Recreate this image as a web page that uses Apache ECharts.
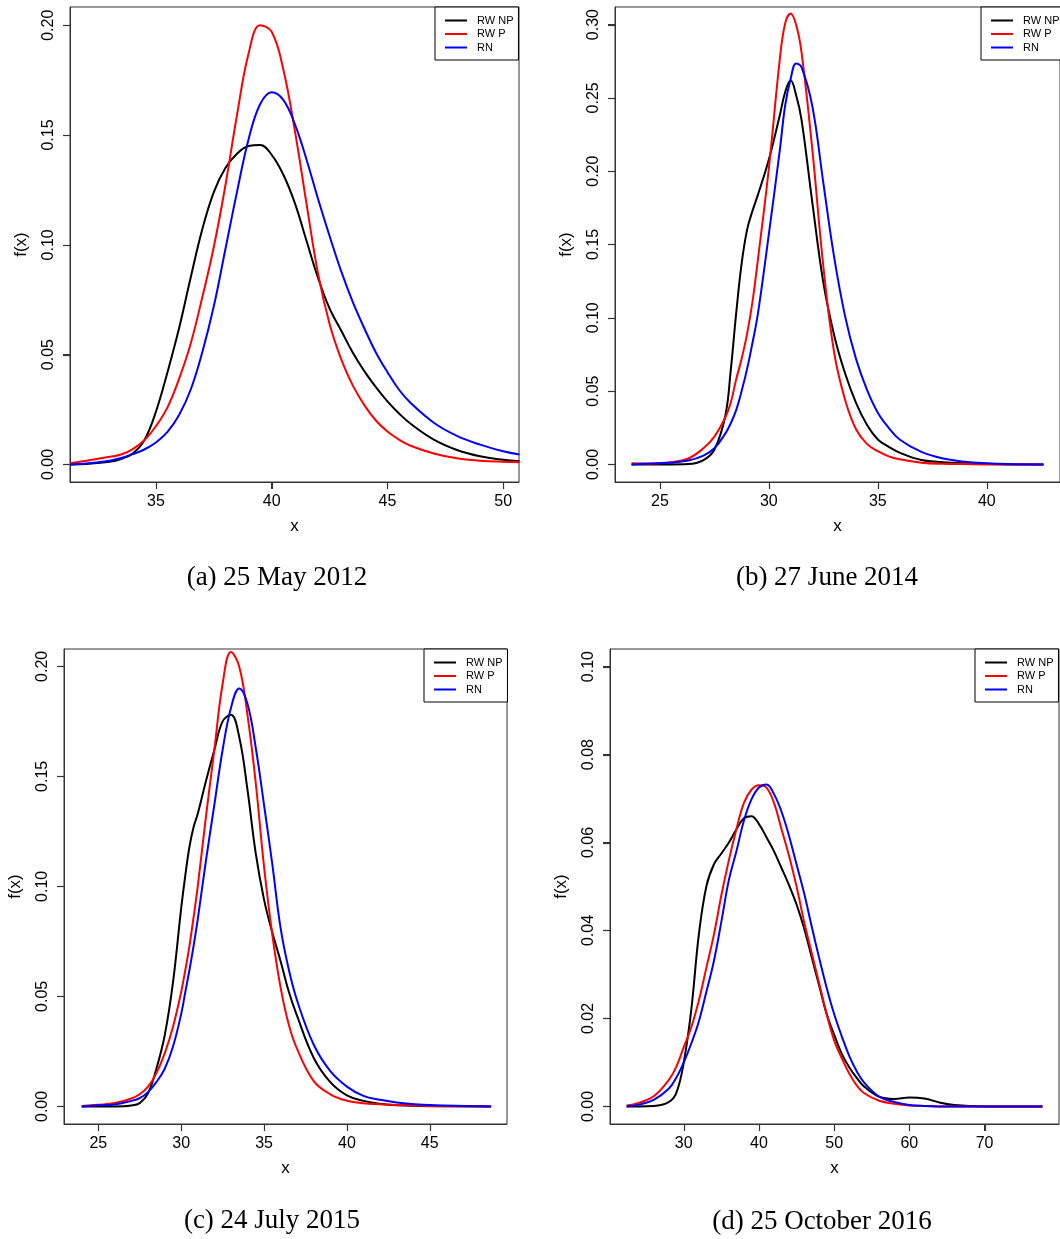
<!DOCTYPE html>
<html>
<head>
<meta charset="utf-8">
<script src="https://cdn.jsdelivr.net/npm/echarts@6/dist/echarts.min.js"></script>
<style>
  html, body { margin: 0; padding: 0; background: #fff; }
  #container { width: 1060px; height: 1239px; }
</style>
</head>
<body>
<div id="container"></div>
<script>
// (a) 25 May 2012
const aX   = [31.3, 32, 33, 33.5, 34, 34.5, 35, 35.5, 36, 36.5, 37, 37.5, 38, 38.5, 39, 39.5, 40, 40.5, 41, 41.5, 42, 42.5, 43, 43.5, 44, 44.5, 45, 45.5, 46, 47, 48, 49, 50, 50.7]
const aNP  = [0, 0.0002, 0.0012, 0.0025, 0.005, 0.011, 0.024, 0.042, 0.062, 0.085, 0.107, 0.124, 0.135, 0.1415, 0.145, 0.1455, 0.141, 0.132, 0.119, 0.102, 0.085, 0.071, 0.061, 0.051, 0.0425, 0.0352, 0.0287, 0.0232, 0.0185, 0.0113, 0.0066, 0.0037, 0.0021, 0.0014]
const aP   = [0.0005, 0.0017, 0.0035, 0.0045, 0.007, 0.011, 0.0174, 0.026, 0.039, 0.055, 0.076, 0.099, 0.127, 0.159, 0.187, 0.200, 0.197, 0.180, 0.152, 0.119, 0.087, 0.064, 0.048, 0.036, 0.027, 0.020, 0.015, 0.0113, 0.0085, 0.005, 0.0028, 0.0017, 0.0012, 0.001]
const aRN  = [0, 0.0004, 0.0017, 0.0029, 0.0047, 0.0068, 0.0100, 0.0148, 0.0225, 0.034, 0.051, 0.072, 0.098, 0.124, 0.148, 0.164, 0.1695, 0.166, 0.155, 0.139, 0.121, 0.104, 0.088, 0.074, 0.062, 0.051, 0.042, 0.034, 0.028, 0.019, 0.013, 0.009, 0.006, 0.0045]

// (b) 27 June 2014
const bX   = [23.7, 24.5, 25.5, 26.3, 27, 27.5, 28, 28.25, 28.5, 28.75, 29, 29.25, 29.5, 30, 30.5, 30.75, 31, 31.25, 31.5, 32, 32.5, 33, 33.5, 34, 34.5, 35, 35.5, 36, 37, 38, 39, 40, 41, 42.6]
const bNP  = [0, 0, 0, 0.0002, 0.003, 0.010, 0.033, 0.064, 0.103, 0.137, 0.160, 0.173, 0.184, 0.208, 0.238, 0.254, 0.262, 0.252, 0.235, 0.178, 0.124, 0.088, 0.062, 0.042, 0.027, 0.017, 0.012, 0.008, 0.003, 0.0015, 0.0008, 0.0003, 0, 0]
const bP   = [0.0008, 0.0005, 0.0015, 0.004, 0.011, 0.019, 0.032, 0.042, 0.058, 0.072, 0.089, 0.111, 0.140, 0.202, 0.276, 0.301, 0.3076, 0.300, 0.281, 0.214, 0.135, 0.076, 0.044, 0.024, 0.014, 0.009, 0.0055, 0.0035, 0.0012, 0.0004, 0.0002, 0, 0, 0]
const bRN  = [0, 0.0006, 0.0012, 0.0026, 0.006, 0.011, 0.021, 0.028, 0.037, 0.050, 0.065, 0.083, 0.103, 0.157, 0.214, 0.245, 0.263, 0.2735, 0.271, 0.244, 0.192, 0.141, 0.101, 0.072, 0.051, 0.0353, 0.025, 0.017, 0.0085, 0.004, 0.0018, 0.0008, 0.0003, 0]

// (c) 24 July 2015
const cX   = [24, 25, 26, 27, 27.5, 28, 28.5, 29, 29.5, 30, 30.25, 30.5, 30.75, 31, 31.5, 32, 32.5, 33, 33.5, 34, 34.5, 35, 35.5, 36, 36.5, 37, 38, 39, 40, 41, 42, 43, 45, 48.7]
const cNP  = [0, 0, 0, 0.0004, 0.0015, 0.006, 0.017, 0.032, 0.056, 0.090, 0.105, 0.118, 0.127, 0.133, 0.148, 0.162, 0.175, 0.178, 0.168, 0.144, 0.115, 0.094, 0.079, 0.066, 0.052, 0.041, 0.022, 0.011, 0.005, 0.0025, 0.0012, 0.0005, 0.0001, 0]
const cP   = [0.0002, 0.0007, 0.0015, 0.0036, 0.0055, 0.009, 0.015, 0.024, 0.036, 0.052, 0.062, 0.073, 0.086, 0.100, 0.132, 0.162, 0.192, 0.2065, 0.200, 0.178, 0.147, 0.109, 0.078, 0.054, 0.037, 0.026, 0.0115, 0.0055, 0.0026, 0.0014, 0.001, 0.0006, 0.0002, 0]
const cRN  = [0, 0.0005, 0.0009, 0.0025, 0.0038, 0.0065, 0.011, 0.017, 0.027, 0.042, 0.052, 0.062, 0.073, 0.085, 0.112, 0.137, 0.162, 0.181, 0.190, 0.183, 0.163, 0.137, 0.110, 0.081, 0.062, 0.048, 0.028, 0.016, 0.009, 0.0048, 0.003, 0.0018, 0.0006, 0]

// (d) 25 October 2016
const dX   = [22.4, 24, 26, 28, 29, 30, 31, 32, 33, 34, 35, 36, 37, 38, 39, 40, 41, 42, 43, 44, 45, 46, 47, 48, 49, 50, 51, 52, 53, 54, 56, 58, 60, 62, 64, 66, 70, 77.7]
const dNP  = [0, 0, 0.0001, 0.001, 0.003, 0.010, 0.022, 0.039, 0.050, 0.055, 0.0575, 0.060, 0.063, 0.0655, 0.066, 0.0642, 0.0612, 0.058, 0.0542, 0.0503, 0.0459, 0.0405, 0.034, 0.0275, 0.021, 0.0163, 0.012, 0.0089, 0.0065, 0.0045, 0.0022, 0.0017, 0.002, 0.0018, 0.0009, 0.0003, 0, 0]
const dP   = [0.0002, 0.0008, 0.0023, 0.006, 0.009, 0.0135, 0.018, 0.024, 0.0315, 0.039, 0.048, 0.056, 0.063, 0.069, 0.072, 0.073, 0.0725, 0.069, 0.063, 0.057, 0.050, 0.042, 0.035, 0.028, 0.021, 0.015, 0.011, 0.0075, 0.0048, 0.003, 0.0013, 0.0006, 0.0002, 0.0001, 0, 0, 0, 0]
const dRN  = [0, 0.0004, 0.0015, 0.004, 0.0065, 0.010, 0.0143, 0.0193, 0.026, 0.033, 0.042, 0.0515, 0.058, 0.065, 0.0698, 0.0725, 0.0732, 0.071, 0.067, 0.0615, 0.055, 0.0485, 0.041, 0.0338, 0.027, 0.021, 0.016, 0.0115, 0.008, 0.0054, 0.0022, 0.001, 0.0003, 0.0001, 0, 0, 0, 0]

const seriesNames = ['RW NP', 'RW P', 'RN']
const seriesColors = ['#000000', '#ff0000', '#0000ff']

// tick labels
const aXTicks = [35, 40, 45, 50]
const bXTicks = [25, 30, 35, 40]
const cXTicks = [25, 30, 35, 40, 45]
const dXTicks = [30, 40, 50, 60, 70]
const aYTicks = [0, 0.05, 0.10, 0.15, 0.20]
const bYTicks = [0, 0.05, 0.10, 0.15, 0.20, 0.25, 0.30]
const cYTicks = [0, 0.05, 0.10, 0.15, 0.20]
const dYTicks = [0, 0.02, 0.04, 0.06, 0.08, 0.10]

const captions = ['(a) 25 May 2012', '(b) 27 June 2014', '(c) 24 July 2015', '(d) 25 October 2016']

const SANS = "'Liberation Sans', Arial, Helvetica, sans-serif"
const SERIF = "'Liberation Serif', 'Times New Roman', serif"
const BOX = '#333333'
const TICK_LEN = 7

const panels = [
    { x: aX, ys: [aNP, aP, aRN], xTicks: aXTicks, yTicks: aYTicks, xMin: 31.29, xMax: 50.68, yMin: -0.008, yMax: 0.2083,
      grid: { left: 70, top: 7, width: 449, height: 475 }, legend: { left: 435, top: 7 }, caption: { left: 277, top: 564 } },
    { x: bX, ys: [bNP, bP, bRN], xTicks: bXTicks, yTicks: bYTicks, xMin: 22.94, xMax: 43.36, yMin: -0.012, yMax: 0.312,
      grid: { left: 615, top: 7, width: 454, height: 475 }, legend: { left: 981, top: 7 }, caption: { left: 827, top: 564 } },
    { x: cX, ys: [cNP, cP, cRN], xTicks: cXTicks, yTicks: cYTicks, xMin: 22.93, xMax: 49.66, yMin: -0.008, yMax: 0.2079,
      grid: { left: 64, top: 649, width: 443, height: 475 }, legend: { left: 424, top: 649 }, caption: { left: 272, top: 1207 } },
    { x: dX, ys: [dNP, dP, dRN], xTicks: dXTicks, yTicks: dYTicks, xMin: 20.19, xMax: 79.9, yMin: -0.004, yMax: 0.104,
      grid: { left: 610, top: 649, width: 449, height: 475 }, legend: { left: 975, top: 649 }, caption: { left: 822, top: 1208 } },
]

let chart = echarts.init(document.getElementById('container'), null, { renderer: 'canvas' })

let grids = [], xAxes = [], yAxes = [], legends = [], titles = [], series = []

panels.forEach((p, i) => {
    grids.push({ ...p.grid, show: true, borderColor: BOX, borderWidth: 1, backgroundColor: 'transparent' })

    xAxes.push({
        type: 'value', gridIndex: i, min: p.xMin, max: p.xMax,
        name: 'x', nameLocation: 'middle', nameGap: 36,
        nameTextStyle: { fontFamily: SANS, fontSize: 17, color: '#000' },
        axisLine: { show: true, onZero: false, lineStyle: { color: BOX, width: 1 } },
        axisTick: { show: true, inside: false, length: TICK_LEN, customValues: p.xTicks, lineStyle: { color: BOX, width: 1 } },
        axisLabel: { show: true, customValues: p.xTicks, margin: 12, fontFamily: SANS, fontSize: 16, color: '#000' },
        splitLine: { show: false }
    })

    yAxes.push({
        type: 'value', gridIndex: i, min: p.yMin, max: p.yMax,
        name: 'f(x)', nameLocation: 'middle', nameGap: 40,
        nameTextStyle: { fontFamily: SANS, fontSize: 17, color: '#000' },
        axisLine: { show: true, onZero: false, lineStyle: { color: BOX, width: 1 } },
        axisTick: { show: true, inside: false, length: TICK_LEN, customValues: p.yTicks, lineStyle: { color: BOX, width: 1 } },
        axisLabel: { show: true, customValues: p.yTicks, rotate: 90, margin: 13, fontFamily: SANS, fontSize: 16, color: '#000',
            formatter: v => v.toFixed(2) },
        splitLine: { show: false }
    })

    legends.push({
        data: seriesNames, orient: 'vertical', left: p.legend.left, top: p.legend.top,
        padding: [8, 5, 7, 10], itemWidth: 22, itemHeight: 2, itemGap: 2.5, icon: 'rect',
        borderColor: '#000', borderWidth: 1, borderRadius: 0, backgroundColor: '#fff',
        selectedMode: false,
        textStyle: { fontFamily: SANS, fontSize: 11, color: '#000', padding: [0, 0, 0, 5] }
    })

    titles.push({
        text: captions[i], left: p.caption.left, top: p.caption.top, textAlign: 'center', padding: 0,
        textStyle: { fontFamily: SERIF, fontSize: 27, fontWeight: 'normal', color: '#000' }
    })

    p.ys.forEach((ys, k) => {
        series.push({
            name: seriesNames[k],
            type: 'line',
            xAxisIndex: i, yAxisIndex: i,
            data: p.x.map((x, j) => [x, ys[j]]),
            showSymbol: false, symbol: 'none',
            smooth: 0.4,
            lineStyle: { color: seriesColors[k], width: 2 },
            itemStyle: { color: seriesColors[k] },
            animation: false
        })
    })
})

chart.setOption({
    backgroundColor: '#fff',
    animation: false,
    title: titles,
    legend: legends,
    grid: grids,
    xAxis: xAxes,
    yAxis: yAxes,
    series: series
})

// R-style outward tick marks, positioned through each grid's scales
let ticks = []
panels.forEach((p, i) => {
    p.xTicks.forEach(v => {
        let pt = chart.convertToPixel({ gridIndex: i }, [v, p.yMin])
        if (!pt) return
        let px = Math.round(pt[0]) + 0.5, py = Math.round(pt[1])
        ticks.push({ type: 'line', silent: true, z: 100,
            shape: { x1: px, y1: py, x2: px, y2: py + TICK_LEN },
            style: { stroke: BOX, lineWidth: 1.2 } })
    })
    p.yTicks.forEach(v => {
        let pt = chart.convertToPixel({ gridIndex: i }, [p.xMin, v])
        if (!pt) return
        let px = Math.round(pt[0]), py = Math.round(pt[1]) + 0.5
        ticks.push({ type: 'line', silent: true, z: 100,
            shape: { x1: px, y1: py, x2: px - TICK_LEN, y2: py },
            style: { stroke: BOX, lineWidth: 1.2 } })
    })
})
chart.setOption({ graphic: { elements: ticks } })

window.onresize = function () {
    chart.resize()
}
</script>
</body>
</html>
